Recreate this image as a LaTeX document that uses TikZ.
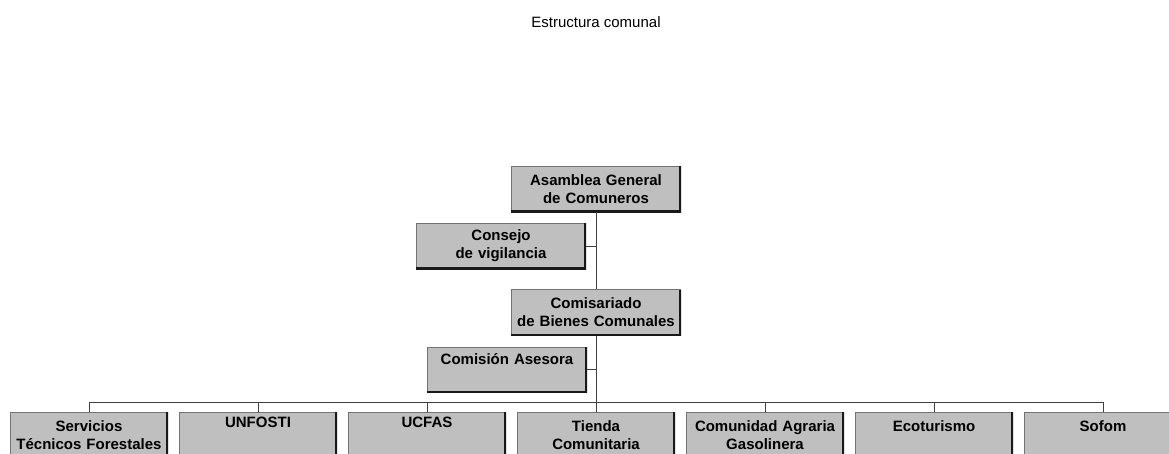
\documentclass[tikz,border=0pt]{standalone}
\usepackage{fontspec}
\setmainfont{Liberation Sans}
\begin{document}
\begin{tikzpicture}[x=1pt,y=-1pt,
  conn/.style={draw=black!75,line width=0.9pt},
  orgbox/.style={fill=black!25,draw=none,
    font=\fontsize{15pt}{18pt}\selectfont\bfseries,
    align=center,inner xsep=2pt,
    path picture={
      \draw[line width=1.4pt,black!55]
        (path picture bounding box.south west) -- (path picture bounding box.north west)
        -- (path picture bounding box.north east);
      \draw[line width=3.2pt,black!90]
        (path picture bounding box.north east) -- (path picture bounding box.south east)
        -- (path picture bounding box.south west);
    }},
  midbox/.style={orgbox,text width=166pt,minimum height=46pt,inner ysep=2pt},
  topbox/.style={orgbox,text width=#1,text height=12pt,anchor=north},
  lowbox/.style={topbox=154pt,text depth=40pt,inner ysep=7pt},
  titletext/.style={font=\fontsize{15pt}{18pt}\selectfont}
]
\useasboundingbox (0,0) rectangle (1169,453);
\clip (0,0) rectangle (1169,453);

\node[titletext,anchor=base] (title) at (596,27) {Estructura comunal};

\node[midbox] (asam) at (596,189) {Asamblea General\\de Comuneros};
\node[midbox] (cons) at (501,246) {Consejo\\de vigilancia};
\node[midbox] (comi) at (596,312.5) {Comisariado\\de Bienes Comunales};
\node[topbox=156pt,text depth=23pt,inner ysep=5pt] (ases) at (507,347) {Comisión Asesora};

\coordinate (bus) at (0,402);

\node[lowbox] (b1) at (89,412) {Servicios\\Técnicos Forestales};
\node[lowbox,inner ysep=3pt] (b2) at (258,412) {UNFOSTI};
\node[lowbox,inner ysep=3pt] (b3) at (427,412) {UCFAS};
\node[lowbox] (b4) at (596,412) {Tienda\\Comunitaria};
\node[lowbox] (b5) at (765,412) {Comunidad Agraria\\Gasolinera};
\node[lowbox] (b6) at (934,412) {Ecoturismo};
\node[lowbox] (b7) at (1103,412) {Sofom};

\draw[conn] (asam.south) -- (comi.north);
\draw[conn] (cons.east) -- (cons.east -| asam.south);
\draw[conn] (comi.south) -- (comi.south |- bus);
\draw[conn] (ases.east) -- (ases.east -| comi.south);
\draw[conn] (b1.north) |- (b7.north |- bus) -- (b7.north);
\foreach \b in {b2,b3,b4,b5,b6}{
  \draw[conn] (\b.north) -- (\b.north |- bus);
}
\end{tikzpicture}
\end{document}
